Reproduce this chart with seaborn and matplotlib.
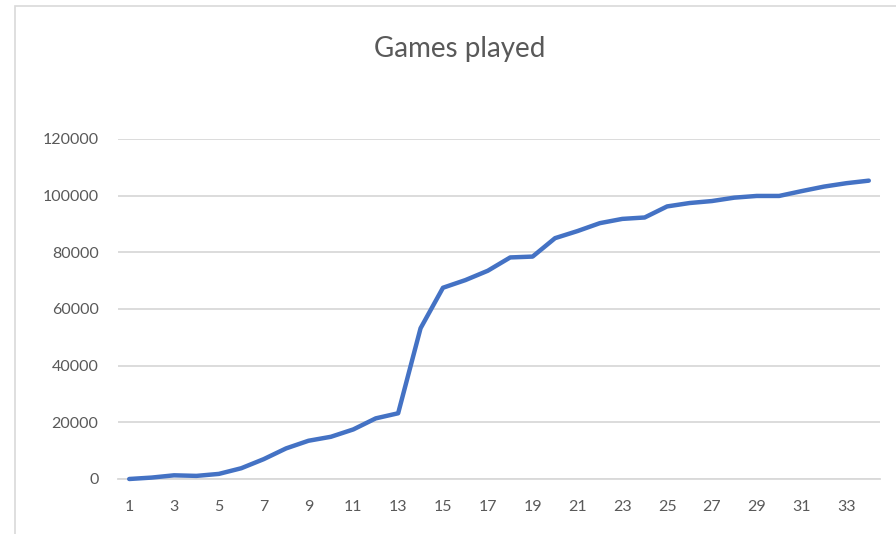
import matplotlib
matplotlib.use("Agg")
import matplotlib.pyplot as plt
import seaborn as sns
import pandas as pd
from matplotlib.patches import Rectangle

# Data
weeks = list(range(1, 35))
games = [0, 500, 1300, 1100, 1800, 3800, 7000, 10800, 13500, 14900,
         17500, 21400, 23200, 53200, 67500, 70200, 73500, 78200, 78500, 85000,
         87500, 90300, 91800, 92300, 96200, 97400, 98100, 99300, 99900, 99900,
         101600, 103200, 104400, 105300]
y_ticks = [0, 20000, 40000, 60000, 80000, 100000, 120000]
x_ticks = list(range(1, 35, 2))
title = "Games played"

df = pd.DataFrame({"week": weeks, "games": games})

sns.set_theme(style="white")
plt.rcParams["font.family"] = ["Lato", "DejaVu Sans"]

fig = plt.figure(figsize=(8.96, 5.34), dpi=100)
ax = fig.add_axes([118 / 896, 1 - 479 / 534, (880 - 118) / 896, (479 - 139) / 534])

sns.lineplot(data=df, x="week", y="games", ax=ax, color="#4472C4",
             linewidth=3.2, solid_capstyle="round", solid_joinstyle="round",
             clip_on=False, zorder=3)

ax.set_xlim(0.5, 34.5)
ax.set_ylim(0, 120000)
ax.set_yticks(y_ticks)
ax.set_yticklabels([str(v) for v in y_ticks])
ax.set_xticks(x_ticks)
ax.set_xticklabels([str(v) for v in x_ticks])
ax.yaxis.grid(True, color="#d9d9d9", linewidth=1.3)
ax.xaxis.grid(False)
for s in ["top", "right", "left"]:
    ax.spines[s].set_visible(False)
ax.spines["bottom"].set_color("#d9d9d9")
ax.spines["bottom"].set_linewidth(1.3)
ax.tick_params(axis="y", length=0, pad=14, labelsize=11.5, labelcolor="#595959")
ax.tick_params(axis="x", length=0, pad=15, labelsize=11.5, labelcolor="#595959")
ax.set_xlabel("")
ax.set_ylabel("")

fig.text(460 / 896, 1 - 57 / 534, title, ha="center", va="baseline",
         fontsize=20, color="#595959")

fig.patches.append(Rectangle((15 / 896, -0.1), 1.2, 1 - 6 / 534 + 0.1,
                             transform=fig.transFigure, fill=False,
                             edgecolor="#d9d9d9", linewidth=1.2, zorder=-1))

fig.savefig("out.png", dpi=100)
